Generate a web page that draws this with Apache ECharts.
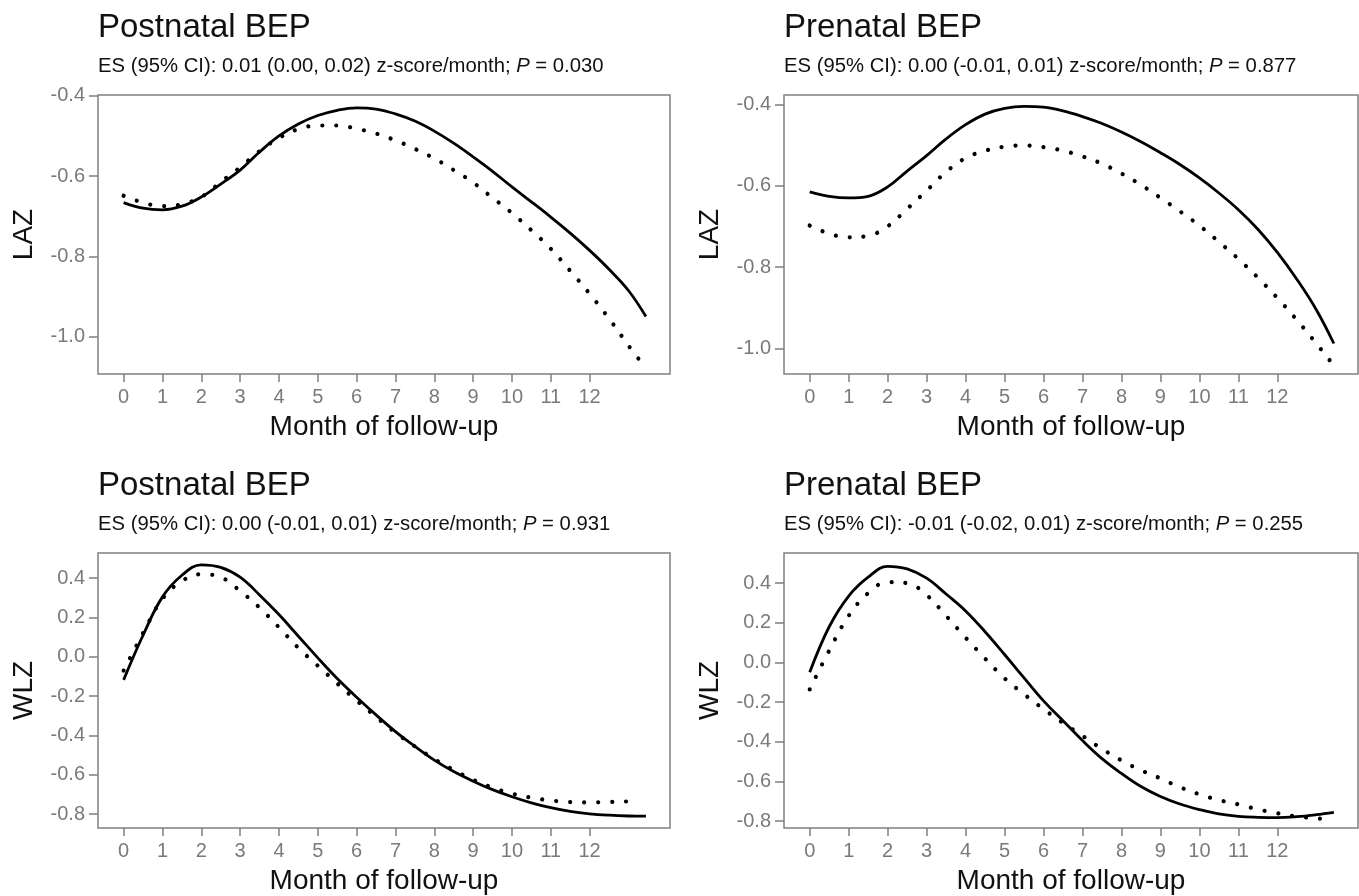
<!DOCTYPE html>
<html>
<head>
<meta charset="utf-8">
<script src="https://cdn.jsdelivr.net/npm/echarts@6/dist/echarts.min.js"></script>
<style>
html,body{margin:0;padding:0;background:#fff;}
#c{width:1359px;height:896px;}
</style>
</head>
<body>
<div id="c"></div>
<script>
// ---- data ----
const months = [0,0.5,1,1.5,2,2.5,3,3.5,4,4.5,5,5.5,6,6.5,7,7.5,8,8.5,9,9.5,10,10.5,11,11.5,12,12.5,13];
const xTicks = [0,1,2,3,4,5,6,7,8,9,10,11,12];
const lazTicks = [-1.0,-0.8,-0.6,-0.4];
const wlzTicks = [-0.8,-0.6,-0.4,-0.2,0.0,0.2,0.4];

const titles = ['Postnatal BEP','Prenatal BEP','Postnatal BEP','Prenatal BEP'];
const subtitles = [
  'ES (95% CI): 0.01 (0.00, 0.02) z-score/month; {i|P} = 0.030',
  'ES (95% CI): 0.00 (-0.01, 0.01) z-score/month; {i|P} = 0.877',
  'ES (95% CI): 0.00 (-0.01, 0.01) z-score/month; {i|P} = 0.931',
  'ES (95% CI): -0.01 (-0.02, 0.01) z-score/month; {i|P} = 0.255'
];
const yNames = ['LAZ','LAZ','WLZ','WLZ'];

// last month of each curve
const solidEnd = [13.45,13.45,13.45,13.45];
const dottedEnd = [13.3,13.35,13.3,13.35];

// LAZ, postnatal BEP
const lazPostSolid = [-0.666,-0.680,-0.684,-0.675,-0.652,-0.620,-0.585,-0.540,-0.500,-0.470,-0.449,-0.436,-0.430,-0.433,-0.445,-0.463,-0.488,-0.518,-0.552,-0.588,-0.627,-0.664,-0.702,-0.742,-0.785,-0.832,-0.885,-0.950];
const lazPostDotted = [-0.649,-0.666,-0.675,-0.670,-0.652,-0.615,-0.578,-0.538,-0.505,-0.483,-0.474,-0.474,-0.482,-0.494,-0.511,-0.532,-0.556,-0.585,-0.616,-0.654,-0.692,-0.735,-0.781,-0.836,-0.893,-0.955,-1.022,-1.060];
// LAZ, prenatal BEP
const lazPreSolid = [-0.615,-0.626,-0.630,-0.626,-0.603,-0.564,-0.526,-0.485,-0.450,-0.424,-0.410,-0.405,-0.407,-0.416,-0.430,-0.447,-0.468,-0.492,-0.519,-0.548,-0.581,-0.618,-0.659,-0.707,-0.764,-0.830,-0.905,-0.988];
const lazPreDotted = [-0.698,-0.718,-0.727,-0.723,-0.700,-0.657,-0.612,-0.566,-0.532,-0.514,-0.504,-0.501,-0.505,-0.514,-0.528,-0.546,-0.570,-0.598,-0.630,-0.663,-0.698,-0.738,-0.780,-0.826,-0.876,-0.930,-0.988,-1.030];
// WLZ, postnatal BEP
const wlzPostSolid = [-0.117,0.110,0.305,0.415,0.468,0.455,0.405,0.315,0.215,0.105,-0.005,-0.110,-0.205,-0.295,-0.380,-0.455,-0.525,-0.583,-0.632,-0.675,-0.711,-0.742,-0.767,-0.786,-0.798,-0.805,-0.809,-0.810];
const wlzPostDotted = [-0.070,0.120,0.295,0.385,0.420,0.405,0.335,0.250,0.150,0.045,-0.045,-0.135,-0.222,-0.305,-0.385,-0.455,-0.520,-0.575,-0.625,-0.665,-0.695,-0.716,-0.730,-0.738,-0.740,-0.738,-0.735,-0.733];
// WLZ, prenatal BEP
const wlzPreSolid = [-0.050,0.180,0.335,0.430,0.485,0.472,0.425,0.345,0.260,0.155,0.040,-0.078,-0.194,-0.294,-0.394,-0.485,-0.560,-0.626,-0.676,-0.714,-0.742,-0.764,-0.776,-0.781,-0.783,-0.778,-0.768,-0.756];
const wlzPreDotted = [-0.136,0.060,0.235,0.350,0.405,0.400,0.340,0.235,0.125,0.020,-0.080,-0.160,-0.235,-0.305,-0.370,-0.436,-0.494,-0.544,-0.585,-0.629,-0.665,-0.694,-0.716,-0.741,-0.760,-0.777,-0.786,-0.790];

const solidSets = [lazPostSolid, lazPreSolid, wlzPostSolid, wlzPreSolid];
const dottedSets = [lazPostDotted, lazPreDotted, wlzPostDotted, wlzPreDotted];
const yTickSets = [lazTicks, lazTicks, wlzTicks, wlzTicks];
const yRanges = [[-1.093,-0.398],[-1.063,-0.377],[-0.870,0.528],[-0.835,0.552]];
const xRange = [-0.66, 14.07];

// ---- layout ----
const gridPos = [
  {left:98, top:95, width:572, height:279},
  {left:784, top:95, width:574, height:279},
  {left:98, top:553, width:572, height:279},
  {left:784, top:553, width:574, height:279}
];
const FONT = "'Liberation Sans', Arial, Helvetica, sans-serif";
const tickColor = '#7f7f7f';
const labelColor = '#7a7a7a';

function pairs(vals, end){
  const ms = months.concat([end]);
  return vals.map((v,i)=>[ms[i], v]);
}

const option = {
  backgroundColor:'#fff',
  animation:false,
  textStyle:{fontFamily:FONT},
  title:[], grid:[], xAxis:[], yAxis:[], series:[]
};

for (let i=0;i<4;i++){
  const g = gridPos[i];
  option.title.push({
    text: titles[i], left: g.left, top: g.top-84, padding:0,
    textStyle:{fontFamily:FONT, fontSize:33, fontWeight:'normal', color:'#111'}
  });
  option.title.push({
    text: subtitles[i], left: g.left, top: g.top-39, padding:0,
    textStyle:{fontFamily:FONT, fontSize:20.3, fontWeight:'normal', color:'#111',
      rich:{i:{fontFamily:FONT, fontSize:20.3, fontStyle:'italic', color:'#111'}}}
  });
  option.grid.push({left:g.left, top:g.top, width:g.width, height:g.height,
    show:true, borderColor:'#808080', borderWidth:1.5, containLabel:false});
  option.xAxis.push({
    type:'value', gridIndex:i, min:xRange[0], max:xRange[1], position:'bottom',
    axisLine:{show:false, onZero:false},
    axisTick:{show:true, inside:false, length:8, customValues:xTicks, lineStyle:{color:tickColor, width:1.5}},
    axisLabel:{show:true, customValues:xTicks, color:labelColor, fontSize:20, margin:13, fontFamily:FONT,
      formatter:(v)=>String(v)},
    splitLine:{show:false},
    name:'Month of follow-up', nameLocation:'middle', nameGap:39,
    nameTextStyle:{fontFamily:FONT, fontSize:28, color:'#111'}
  });
  option.yAxis.push({
    type:'value', gridIndex:i, min:yRanges[i][0], max:yRanges[i][1], position:'left',
    axisLine:{show:false, onZero:false},
    axisTick:{show:true, inside:false, length:9, customValues:yTickSets[i], lineStyle:{color:tickColor, width:1.5}},
    axisLabel:{show:true, customValues:yTickSets[i], color:labelColor, fontSize:20, margin:13, fontFamily:FONT,
      formatter:(v)=>Number(v).toFixed(1)},
    splitLine:{show:false},
    name:yNames[i], nameLocation:'middle', nameGap:60, nameRotate:90,
    nameTextStyle:{fontFamily:FONT, fontSize:28, color:'#111'}
  });
  option.series.push({
    type:'line', xAxisIndex:i, yAxisIndex:i, smooth:0.4, showSymbol:false, symbol:'none',
    data:pairs(solidSets[i], solidEnd[i]),
    lineStyle:{color:'#000', width:2.8, type:'solid'}, z:3
  });
  option.series.push({
    type:'line', xAxisIndex:i, yAxisIndex:i, smooth:0.4, showSymbol:false, symbol:'none',
    data:pairs(dottedSets[i], dottedEnd[i]),
    lineStyle:{color:'#000', width:4.2, type:[0.01,14], cap:'round'}, z:2
  });
}

const chart = echarts.init(document.getElementById('c'), null, {renderer:'canvas'});
chart.setOption(option);
</script>
</body>
</html>
